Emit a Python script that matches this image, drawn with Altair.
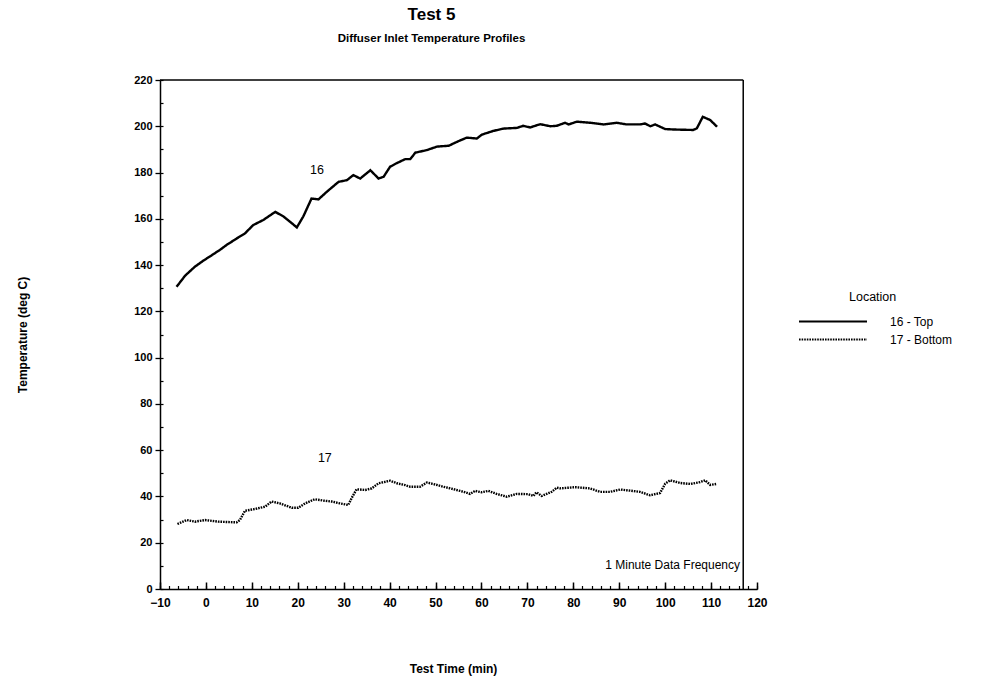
import altair as alt
import pandas as pd

# ---- data ----
series = ["16 - Top", "17 - Bottom"]

t16 = [-6.4, -4.5, -2.4, -0.5, 1.3, 3.0, 4.5, 6.7, 8.5, 10.3, 12.5, 15.1, 16.9, 19.8,
       21.2, 23.0, 24.5, 26.5, 28.9, 30.7, 32.1, 33.6, 35.8, 37.6, 38.7, 40.1, 41.5,
       43.4, 44.5, 45.6, 48.1, 50.3, 52.9, 54.7, 56.8, 59.0, 60.1, 62.6, 64.8, 67.7,
       69.1, 70.6, 72.8, 75.0, 76.4, 78.2, 79.0, 80.8, 83.7, 86.6, 89.5, 91.6, 94.6,
       95.6, 96.8, 97.8, 100.0, 101.8, 106.1, 106.9, 108.2, 109.8, 111.3]
v16 = [130.6, 135.5, 139.3, 142.0, 144.3, 146.5, 148.7, 151.5, 153.7, 157.3, 159.5,
       163.0, 161.0, 156.3, 161.0, 168.8, 168.4, 172.0, 176.0, 176.7, 178.9, 177.4,
       181.0, 177.4, 178.2, 182.5, 184.0, 185.8, 185.8, 188.6, 189.7, 191.2, 191.6,
       193.3, 195.1, 194.7, 196.4, 198.0, 199.0, 199.3, 200.2, 199.5, 200.9, 200.0,
       200.2, 201.5, 200.8, 202.0, 201.5, 200.8, 201.5, 200.8, 200.8, 201.2, 200.0,
       200.8, 198.8, 198.6, 198.4, 199.1, 204.1, 202.7, 199.8]

t17 = [-6.2, -4.2, -2.4, -0.2, 2.7, 6.7, 7.4, 8.5, 10.7, 12.9, 14.3, 16.1, 18.7, 20.1,
       21.6, 23.7, 25.6, 27.4, 29.2, 31.0, 31.7, 32.8, 34.7, 36.1, 37.6, 40.1, 41.6,
       43.4, 44.5, 46.6, 48.1, 49.5, 51.7, 53.2, 54.6, 56.1, 57.5, 58.6, 60.0, 61.5,
       63.3, 65.5, 67.7, 70.2, 71.3, 72.0, 73.1, 75.3, 76.4, 77.1, 80.4, 83.6, 85.8,
       88.0, 90.2, 92.4, 94.5, 96.7, 98.9, 100.0, 101.1, 103.3, 105.5, 107.6, 108.7,
       109.8, 111.1]
v17 = [28.1, 29.8, 29.1, 29.8, 29.1, 28.8, 29.8, 33.8, 34.6, 35.6, 37.8, 37.0, 35.1,
       35.1, 37.0, 38.8, 38.2, 37.8, 37.0, 36.3, 39.2, 43.1, 42.8, 43.5, 45.7, 46.8,
       45.7, 44.9, 44.2, 44.2, 46.0, 45.4, 44.2, 43.5, 42.8, 42.0, 41.1, 42.4, 41.8,
       42.4, 41.1, 39.9, 41.1, 41.0, 40.2, 41.8, 40.2, 42.0, 43.8, 43.5, 44.0, 43.5,
       42.0, 42.0, 43.0, 42.5, 42.0, 40.5, 41.5, 45.5, 47.0, 45.8, 45.4, 46.2, 47.0,
       45.0, 45.4]

line_label_text = ["16", "17"]
line_label_t = [24.2, 25.9]
line_label_v = [181.0, 56.6]

note_text = ["1 Minute Data Frequency"]
note_t = [116.3]
note_v = [10.4]

x_major = list(range(-10, 121, 10))
x_minor = list(range(-10, 121, 2))
y_major = list(range(0, 221, 20))
y_minor = list(range(0, 221, 10))

frame_x = [-10, 117]
frame_x2 = [117, 117]
frame_y = [220, 0]
frame_y2 = [220, 220]

# ---- tables ----
df = pd.concat([
    pd.DataFrame({"t": t16, "temp": v16, "loc": series[0]}),
    pd.DataFrame({"t": t17, "temp": v17, "loc": series[1]}),
])
labels_df = pd.DataFrame({"t": line_label_t, "temp": line_label_v, "txt": line_label_text})
note_df = pd.DataFrame({"t": note_t, "temp": note_v, "txt": note_text})
frame_df = pd.DataFrame({"x": frame_x, "x2": frame_x2, "y": frame_y, "y2": frame_y2})

W, H = 597, 509
FONT = "Liberation Sans"
xscale = alt.Scale(domain=[-10, 120], nice=False, zero=False)
yscale = alt.Scale(domain=[0, 220], nice=False, zero=False)

lines = alt.Chart(df).mark_line(color="black", strokeWidth=2.4).encode(
    x=alt.X("t:Q", scale=xscale, title="Test Time (min)",
            axis=alt.Axis(orient="bottom", values=x_major, ticks=False, grid=False,
                          domain=True, domainColor="black", domainWidth=1.5,
                          labelFont=FONT, labelFontSize=12, labelFontWeight="bold",
                          labelColor="black", labelPadding=8, labelFlush=False,
                          titleFont=FONT, titleFontSize=12, titleFontWeight="bold",
                          titleColor="black", titleX=293, titleY=79,
                          titleBaseline="middle", titleAlign="center")),
    y=alt.Y("temp:Q", scale=yscale, title="Temperature (deg C)",
            axis=alt.Axis(orient="left", values=y_major, ticks=True, tickSize=5,
                          tickColor="black", tickWidth=1.3, grid=False,
                          domain=True, domainColor="black", domainWidth=1.5,
                          labelFont=FONT, labelFontSize=11, labelFontWeight="bold",
                          labelColor="black", labelPadding=3,
                          titleFont=FONT, titleFontSize=12, titleFontWeight="bold",
                          titleColor="black", titleX=-138, titleY=254.5,
                          titleBaseline="middle", titleAlign="center", titleAngle=-90)),
    strokeDash=alt.StrokeDash(
        "loc:N",
        scale=alt.Scale(domain=series, range=[[1, 0], [1.6, 1.0]]),
        legend=alt.Legend(title="Location", orient="none", legendX=689, legendY=211,
                          padding=0, symbolType="M-11.2,0L2.4,0", symbolSize=100,
                          symbolStrokeWidth=2, symbolStrokeColor="black",
                          labelOffset=29, titleAnchor="start", titlePadding=12,
                          titleFont=FONT, titleFontSize=12.5, titleFontWeight="normal",
                          titleColor="black", labelFont=FONT, labelFontSize=12,
                          labelColor="black", rowPadding=6),
    ),
)

ticks_major = alt.Chart(labels_df).mark_text(
    font=FONT, fontSize=12.5, color="black", align="center", baseline="middle"
).encode(
    x=alt.X("t:Q", scale=xscale,
            axis=alt.Axis(orient="top", offset=-H, values=x_major, labels=False,
                          domain=False, grid=False, ticks=True, tickSize=7,
                          tickColor="black", tickWidth=1.5, title=None)),
    y=alt.Y("temp:Q", scale=yscale,
            axis=alt.Axis(orient="right", offset=-W, values=y_minor, labels=False,
                          domain=False, grid=False, ticks=True, tickSize=3,
                          tickColor="black", tickWidth=1.2, title=None)),
    text="txt:N",
)

note = alt.Chart(note_df).mark_text(
    font=FONT, fontSize=12, color="black", align="right", baseline="middle"
).encode(
    x=alt.X("t:Q", scale=xscale,
            axis=alt.Axis(orient="top", offset=-H, values=x_minor, labels=False,
                          domain=False, grid=False, ticks=True, tickSize=3.5,
                          tickColor="black", tickWidth=1.2, title=None)),
    y=alt.Y("temp:Q", scale=yscale, axis=None),
    text="txt:N",
)

frame = alt.Chart(frame_df).mark_rule(color="black", strokeWidth=1.5).encode(
    x=alt.X("x:Q", scale=xscale, axis=None),
    x2="x2:Q",
    y=alt.Y("y:Q", scale=yscale, axis=None),
    y2="y2:Q",
)

chart = alt.layer(frame, lines, ticks_major, note).resolve_axis(
    x="independent", y="independent"
).properties(
    width=W, height=H,
    background="white",
    title=alt.TitleParams(
        "Test 5", subtitle="Diffuser Inlet Temperature Profiles",
        font=FONT, fontSize=17, fontWeight="bold", color="black",
        subtitleFont=FONT, subtitleFontSize=11.5, subtitleFontWeight="bold",
        subtitleColor="black", subtitlePadding=9, anchor="middle", dx=-27, offset=29,
    ),
    autosize=alt.AutoSizeParams(type="none"),
    padding={"left": 160, "top": 80, "right": 237, "bottom": 97},
).configure_view(stroke=None)

chart.save("out.html", embed_options={"renderer": "svg", "actions": False})
